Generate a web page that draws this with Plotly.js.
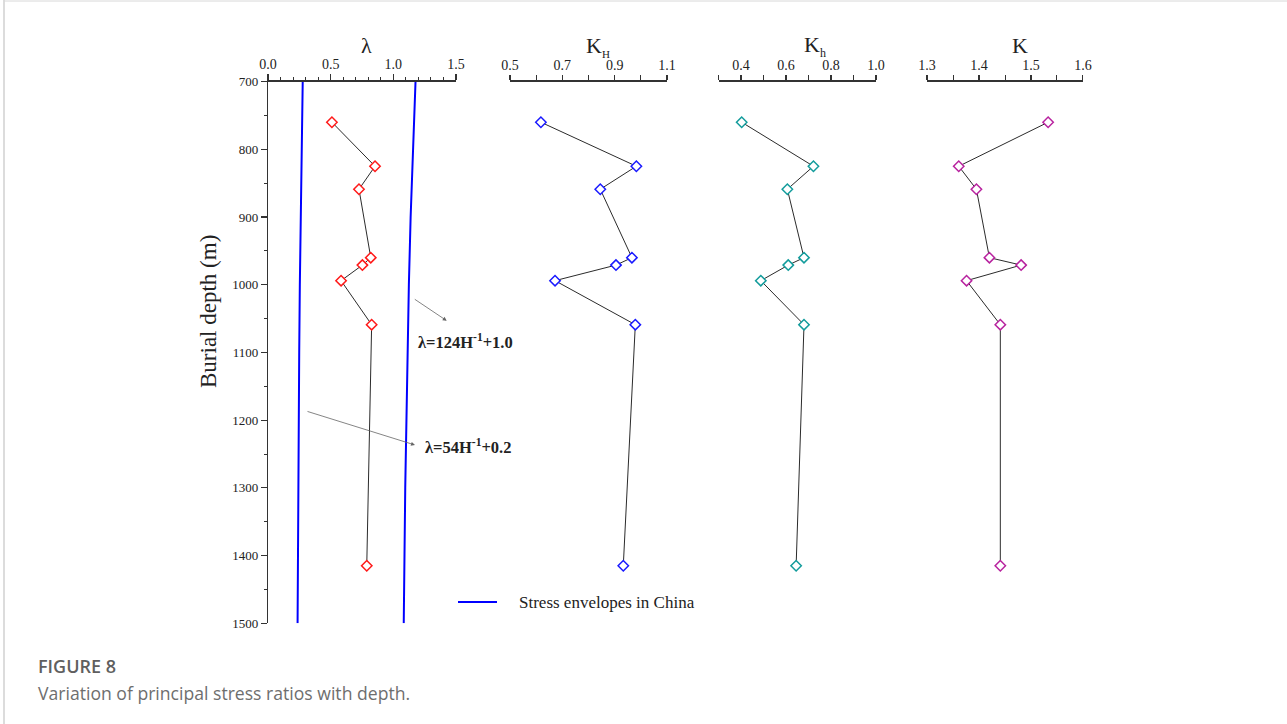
<!DOCTYPE html>
<html>
<head>
<meta charset="utf-8">
<script src="https://cdn.plot.ly/plotly-3.0.1.min.js"></script>
<style>
html,body{margin:0;padding:0;background:#fff;}
#chart{width:1287px;height:724px;}
</style>
</head>
<body>
<div id="chart"></div>
<script>
// ---- data ----
const depth = [760, 825, 859, 960, 971, 994, 1059, 1415];
const lambdaVals = [0.51, 0.854, 0.726, 0.82, 0.753, 0.583, 0.827, 0.788];
const KHVals = [0.618, 0.983, 0.845, 0.966, 0.905, 0.672, 0.979, 0.933];
const KhVals = [0.403, 0.722, 0.606, 0.680, 0.610, 0.488, 0.680, 0.645];
const KVals = [1.533, 1.361, 1.395, 1.420, 1.481, 1.376, 1.441, 1.441];

const envDepth = [700, 800, 900, 1000, 1100, 1200, 1300, 1400, 1500];
const envLower = [0.277, 0.268, 0.260, 0.254, 0.249, 0.245, 0.242, 0.239, 0.236];
const envUpper = [1.177, 1.155, 1.138, 1.124, 1.113, 1.103, 1.095, 1.089, 1.083];

const panelTitles = ['λ', 'K<sub><span style="font-size:11px">H</span></sub>',
                     'K<sub><span style="font-size:12px">h</span></sub>', 'K'];
const yTitle = 'Burial depth (m)';
const legendName = 'Stress envelopes in China';
const eq1 = '<b>λ=124H<sup>-1</sup>+1.0</b>';
const eq2 = '<b>λ=54H<sup>-1</sup>+0.2</b>';

// ---- layout helpers ----
const W = 1287, H = 724;
const px = v => v / W;
const py = v => 1 - v / H;
const SERIF = 'Liberation Serif, Times New Roman, serif';
const yDom = [py(623.3), py(81.6)];

function ptTrace(xs, xa, col) {
  return {
    x: xs, y: depth, xaxis: xa, yaxis: 'y', type: 'scatter', mode: 'lines+markers',
    line: {color: '#2b2b2b', width: 1},
    marker: {symbol: 'diamond', size: 8, color: '#ffffff', line: {color: col, width: 1.5}},
    showlegend: false, cliponaxis: false
  };
}

const traces = [
  {x: envLower, y: envDepth, xaxis: 'x', yaxis: 'y', type: 'scatter', mode: 'lines',
   line: {color: '#0000ff', width: 2}, name: legendName, legendgroup: 'env', showlegend: false},
  {x: envUpper, y: envDepth, xaxis: 'x', yaxis: 'y', type: 'scatter', mode: 'lines',
   line: {color: '#0000ff', width: 2}, name: legendName, legendgroup: 'env', showlegend: false},
  ptTrace(lambdaVals, 'x', '#ff1a1a'),
  ptTrace(KHVals, 'x2', '#1a1aff'),
  ptTrace(KhVals, 'x3', '#139c9c'),
  ptTrace(KVals, 'x4', '#b8239f')
];

function topAxis(dom, range, dtick, tick0, mdtick, majLen, minLen) {
  return {
    domain: dom, range: range, anchor: 'y', side: 'top',
    showline: true, linecolor: '#333', linewidth: 1.2,
    ticks: 'outside', ticklen: majLen, tickwidth: 1.1, tickcolor: '#333',
    tickmode: 'linear', dtick: dtick, tick0: tick0, tickformat: '.1f',
    tickfont: {family: SERIF, size: 14, color: '#222'},
    showgrid: false, zeroline: false, fixedrange: true,
    minor: {dtick: mdtick, tick0: tick0, ticks: 'outside', ticklen: minLen, tickwidth: 1, tickcolor: '#333', showgrid: false}
  };
}

function note(text, x, y, size, extra) {
  return Object.assign({text: text, xref: 'paper', yref: 'paper', x: px(x), y: py(y),
    xanchor: 'center', yanchor: 'middle', showarrow: false,
    font: {family: SERIF, size: size, color: '#222'}}, extra || {});
}

const layout = {
  width: W, height: H,
  margin: {l: 0, r: 0, t: 0, b: 0},
  paper_bgcolor: '#fff', plot_bgcolor: 'rgba(0,0,0,0)',
  xaxis: topAxis([px(268), px(456)], [0, 1.5], 0.5, 0, 0.1, 6, 3),
  xaxis2: topAxis([px(510), px(667)], [0.4999, 1.1001], 0.2, 0.5, 0.1, 5, 5),
  xaxis3: topAxis([px(718.5), px(876)], [0.2999, 1.0001], 0.2, 0.4, 0.1, 5, 5),
  xaxis4: topAxis([px(927), px(1083)], [1.2999, 1.6001], 0.1, 1.3, 0.05, 5, 5),
  yaxis: {
    domain: yDom, range: [1500, 700], anchor: 'x',
    showline: true, linecolor: '#333', linewidth: 1.2,
    ticks: 'outside', ticklen: 6, tickwidth: 1.1, tickcolor: '#333',
    tickmode: 'linear', dtick: 100, tick0: 700,
    tickfont: {family: SERIF, size: 13, color: '#222'},
    showgrid: false, zeroline: false, fixedrange: true,
    minor: {dtick: 50, ticks: 'outside', ticklen: 3, tickwidth: 1, tickcolor: '#333', showgrid: false}
  },
  showlegend: false,
  annotations: [
    note(panelTitles[0], 366.7, 45, 22),
    note(panelTitles[1], 598, 46, 22),
    note(panelTitles[2], 815, 46, 22),
    note(panelTitles[3], 1020, 45, 22),
    note(yTitle, 208, 312, 23, {textangle: -90}),
    note(eq1, 465.5, 341, 16.5),
    note(eq2, 468.5, 446, 16.5),
    note(legendName, 517, 602, 17, {xanchor: 'left'}),
    {text: '', xref: 'paper', yref: 'paper', x: px(446.7), y: py(320.7), ax: -33.4, ay: -22.4,
     showarrow: true, arrowhead: 2, arrowsize: 1, arrowwidth: 0.8, arrowcolor: '#666'},
    {text: '', xref: 'paper', yref: 'paper', x: px(415), y: py(445), ax: -109, ay: -34,
     showarrow: true, arrowhead: 2, arrowsize: 1, arrowwidth: 0.8, arrowcolor: '#666'},
    note('FIGURE 8', 36, 666, 18, {xanchor: 'left',
     font: {family: 'Open Sans, sans-serif', size: 18, color: '#5f5f5f', weight: 600}}),
    note('Variation of principal stress ratios with depth.', 36, 693, 17.6, {xanchor: 'left',
     font: {family: 'Open Sans, sans-serif', size: 17.6, color: '#6e6e6e'}})
  ],
  shapes: [
    {type: 'line', xref: 'paper', yref: 'paper', x0: px(458), x1: px(497), y0: py(602), y1: py(602),
     line: {color: '#0000ff', width: 2}},
    {type: 'line', xref: 'paper', yref: 'paper', x0: px(4), x1: px(4), y0: 0, y1: 1, line: {color: '#d0d0d0', width: 1.5}},
    {type: 'line', xref: 'paper', yref: 'paper', x0: px(4), x1: 1, y0: py(1), y1: py(1), line: {color: '#d8d8d8', width: 1}}
  ]
};

Plotly.newPlot('chart', traces, layout, {displayModeBar: false, staticPlot: true});
</script>
</body>
</html>
